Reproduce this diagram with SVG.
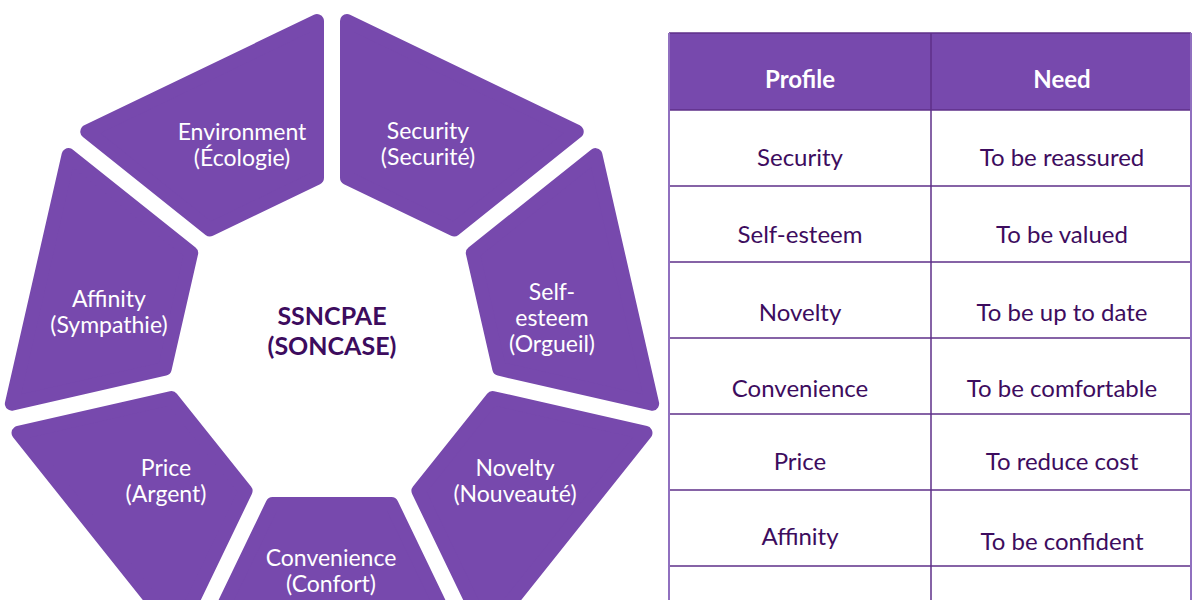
<svg xmlns="http://www.w3.org/2000/svg" width="1200" height="600" viewBox="0 0 1200 600">
<style>
.seg{fill:#7749ad;stroke:#7749ad;stroke-width:14;stroke-linejoin:round}
.lbl{font-family:Lato,"Liberation Sans",sans-serif;font-size:23px;fill:#ffffff;text-anchor:middle}
.ctr{font-family:Lato,"Liberation Sans",sans-serif;font-size:25px;font-weight:bold;fill:#3d0c5e;text-anchor:middle}
.hdr{font-family:Lato,"Liberation Sans",sans-serif;font-size:24px;font-weight:bold;fill:#ffffff;text-anchor:middle}
.cell{font-family:Lato,"Liberation Sans",sans-serif;font-size:24px;fill:#3d0c5e;text-anchor:middle}
.grid{stroke:#5e2f88;stroke-width:1.5;fill:none}
.border{stroke:#9070bf;stroke-width:2;fill:none}
</style>
<rect width="1200" height="600" fill="#ffffff"/>
<g id="wheel">
<g id="security"><polygon class="seg" points="347,21.03 576.72,131.65 454.11,229.44 347,177.86"/><text class="lbl" x="428" y="139">Security</text><text class="lbl" x="428" y="165">(Securité)</text></g>
<g id="self-esteem"><polygon class="seg" points="595.42,155.11 652.16,403.69 499.27,368.79 472.81,252.90"/><text class="lbl" x="552" y="300">Self-</text><text class="lbl" x="552" y="326">esteem</text><text class="lbl" x="552" y="352">(Orgueil)</text></g>
<g id="novelty"><polygon class="seg" points="645.48,432.93 486.52,632.28 418.47,490.98 492.59,398.03"/><text class="lbl" x="515" y="476">Novelty</text><text class="lbl" x="515" y="502">(Nouveauté)</text></g>
<g id="convenience"><polygon class="seg" points="459.49,645.30 204.52,645.30 272.57,504.00 391.44,504.00"/><text class="lbl" x="331" y="566">Convenience</text><text class="lbl" x="331" y="592">(Confort)</text></g>
<g id="price"><polygon class="seg" points="177.49,632.28 18.52,432.93 171.41,398.03 245.54,490.98"/><text class="lbl" x="166" y="476">Price</text><text class="lbl" x="166" y="502">(Argent)</text></g>
<g id="affinity"><polygon class="seg" points="11.84,403.69 68.58,155.11 191.19,252.90 164.73,368.79"/><text class="lbl" x="109" y="307">Affinity</text><text class="lbl" x="109" y="333">(Sympathie)</text></g>
<g id="environment"><polygon class="seg" points="87.28,131.65 317,21.03 317,177.86 209.89,229.44"/><text class="lbl" x="242" y="140">Environment</text><text class="lbl" x="242" y="166">(Écologie)</text></g>
<g id="center"><text class="ctr" x="332" y="325">SSNCPAE</text><text class="ctr" x="332" y="355">(SONCASE)</text></g>
</g>
<g id="table">
<rect x="669" y="33" width="522" height="77" fill="#7749ad"/>
<g id="grid">
<line class="grid" x1="669" y1="33" x2="1191" y2="33"/>
<line class="grid" x1="669" y1="110" x2="1191" y2="110"/>
<line class="grid" x1="669" y1="186" x2="1191" y2="186"/>
<line class="grid" x1="669" y1="262" x2="1191" y2="262"/>
<line class="grid" x1="669" y1="338" x2="1191" y2="338"/>
<line class="grid" x1="669" y1="414" x2="1191" y2="414"/>
<line class="grid" x1="669" y1="490" x2="1191" y2="490"/>
<line class="grid" x1="669" y1="566" x2="1191" y2="566"/>
<line class="grid" x1="931" y1="33" x2="931" y2="600"/>
<line class="border" x1="669" y1="33" x2="669" y2="600"/>
<line class="border" x1="1191" y1="33" x2="1191" y2="600"/>
</g>
<text class="hdr" x="800" y="88">Profile</text><text class="hdr" x="1062" y="88">Need</text>
<text class="cell" x="800" y="166">Security</text><text class="cell" x="1062" y="166">To be reassured</text>
<text class="cell" x="800" y="243">Self-esteem</text><text class="cell" x="1062" y="243">To be valued</text>
<text class="cell" x="800" y="321">Novelty</text><text class="cell" x="1062" y="321">To be up to date</text>
<text class="cell" x="800" y="397">Convenience</text><text class="cell" x="1062" y="397">To be comfortable</text>
<text class="cell" x="800" y="470">Price</text><text class="cell" x="1062" y="470">To reduce cost</text>
<text class="cell" x="800" y="545">Affinity</text><text class="cell" x="1062" y="550">To be confident</text>
</g>
</svg>
